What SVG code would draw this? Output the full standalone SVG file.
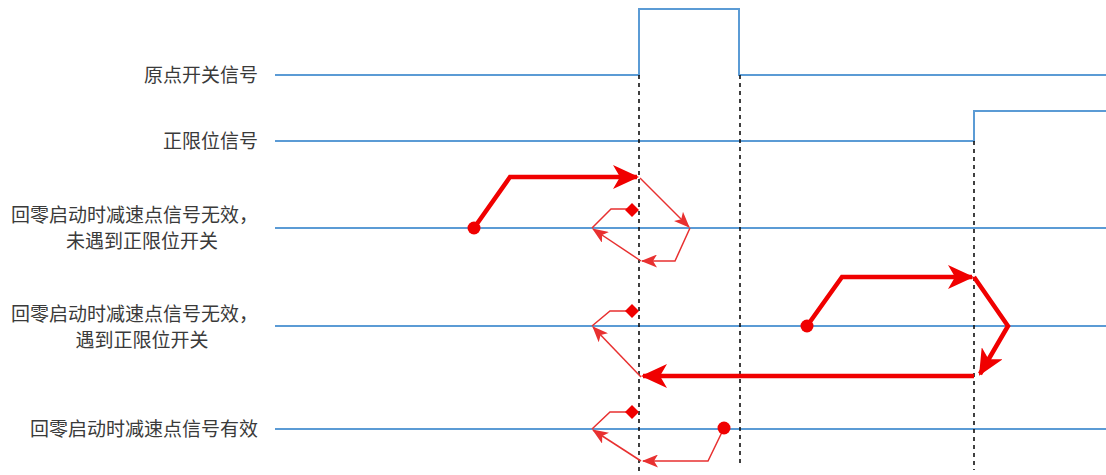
<svg xmlns="http://www.w3.org/2000/svg" width="1106" height="475" viewBox="0 0 1106 475">
<style>
.sig{fill:none;stroke:#5b9bd5;stroke-width:2}
.dash{fill:none;stroke:#111;stroke-width:1.6;stroke-dasharray:4,4}
.thick{fill:none;stroke:#f00000;stroke-width:4.5;stroke-linejoin:miter}
.thin{fill:none;stroke:#e83030;stroke-width:1.5}
.dot{fill:#f00000}
.lbl{font-family:"Noto Sans CJK SC","Liberation Sans",sans-serif;font-size:19px;fill:#3a3a3a}
</style>
<defs>
<marker id="ah" viewBox="0 0 26 24" refX="24" refY="12" markerWidth="26" markerHeight="24" markerUnits="userSpaceOnUse" orient="auto">
<path d="M0,0 L26,12 L0,24 L7,12 z" fill="#f00000"/>
</marker>
<marker id="at" viewBox="0 0 16 13" refX="15" refY="6.5" markerWidth="16" markerHeight="13" markerUnits="userSpaceOnUse" orient="auto">
<path d="M0,0 L16,6.5 L0,13 L4,6.5 z" fill="#e83030"/>
</marker>
</defs>
<g id="signals">
<path class="sig" d="M275,75 H639 V9 H739 V75 H1106"/>
<path class="sig" d="M275,141 H974 V111 H1106"/>
<path class="sig" d="M275,228 H1106"/>
<path class="sig" d="M275,326 H1106"/>
<path class="sig" d="M275,429 H1106"/>
</g>
<g id="guides">
<line class="dash" x1="639" y1="75" x2="639" y2="475"/>
<line class="dash" x1="740" y1="75" x2="740" y2="465"/>
<line class="dash" x1="974" y1="141" x2="974" y2="470"/>
</g>
<g id="labels">
<text class="lbl" x="258" y="82" text-anchor="end">原点开关信号</text>
<text class="lbl" x="258" y="148" text-anchor="end">正限位信号</text>
<text class="lbl" x="258" y="222" text-anchor="end">回零启动时减速点信号无效，</text>
<text class="lbl" x="142" y="248" text-anchor="middle">未遇到正限位开关</text>
<text class="lbl" x="258" y="321" text-anchor="end">回零启动时减速点信号无效，</text>
<text class="lbl" x="142" y="347" text-anchor="middle">遇到正限位开关</text>
<text class="lbl" x="258" y="436" text-anchor="end">回零启动时减速点信号有效</text>
</g>
<g id="connectors">
<path class="thick" d="M474,228 L510,177 H637" marker-end="url(#ah)"/>
<path class="thin" d="M640,178 L689,227" marker-end="url(#at)"/>
<path class="thin" d="M690,228 L675,261 H642" marker-end="url(#at)"/>
<path class="thin" d="M641,261 L593,229" marker-end="url(#at)"/>
<path class="thin" d="M592,228 L611,209 H630"/>
<path class="thick" d="M807,326 L842,277 H972" marker-end="url(#ah)"/>
<path class="thick" d="M974,277 L1008,326 L980,374" marker-end="url(#ah)"/>
<path class="thick" d="M974,376 H643" marker-end="url(#ah)"/>
<path class="thin" d="M641,377 L593,327" marker-end="url(#at)"/>
<path class="thin" d="M592,326 L610,311 H630"/>
<path class="thin" d="M724,428 L708,461 H643" marker-end="url(#at)"/>
<path class="thin" d="M641,461 L593,430" marker-end="url(#at)"/>
<path class="thin" d="M592,429 L610,412 H630"/>
</g>
<g id="points">
<circle class="dot" cx="474" cy="228" r="6.5"/>
<path class="dot" d="M632,203 L639,210 L632,217 L625,210 z"/>
<circle class="dot" cx="807" cy="326" r="6.5"/>
<path class="dot" d="M632,304 L639,311 L632,318 L625,311 z"/>
<circle class="dot" cx="724" cy="428" r="6.5"/>
<path class="dot" d="M632,405 L639,412 L632,419 L625,412 z"/>
</g>
</svg>
